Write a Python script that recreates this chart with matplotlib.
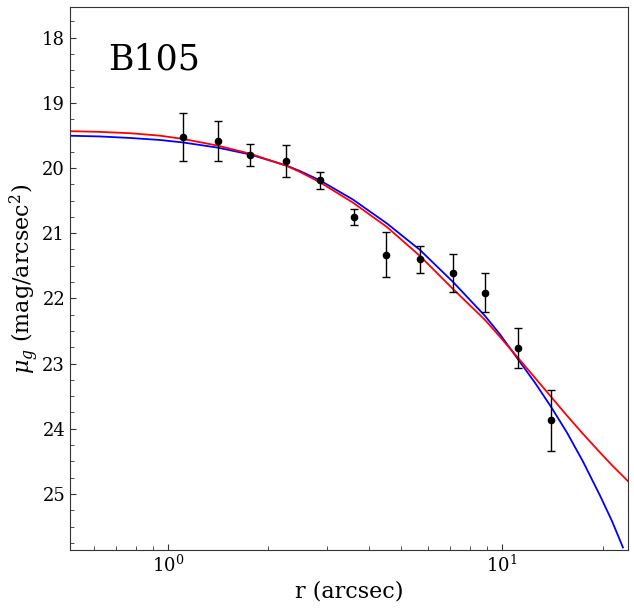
import matplotlib
matplotlib.use("Agg")
import matplotlib.pyplot as plt
from matplotlib.ticker import AutoMinorLocator

plt.rcParams['font.family'] = 'DejaVu Serif'
plt.rcParams['mathtext.fontset'] = 'dejavuserif'

# observed profile
r_obs = [1.109, 1.411, 1.760, 2.256, 2.852, 3.60, 4.49, 5.68, 7.13, 8.90, 11.16, 14.02]
mu_obs = [19.53, 19.59, 19.80, 19.89, 20.19, 20.75, 21.33, 21.40, 21.61, 21.91, 22.76, 23.87]
mu_err = [0.37, 0.31, 0.17, 0.245, 0.13, 0.12, 0.345, 0.21, 0.29, 0.30, 0.31, 0.47]

# model curves
r_red = [0.5087, 0.6256, 0.7696, 0.9464, 1.109, 1.411, 1.760, 2.256, 2.484, 2.852,
         3.580, 4.526, 5.682, 7.133, 8.894, 9.863, 11.167, 12.557, 14.02, 15.66,
         17.48, 19.66, 21.35, 23.84]
mu_red = [19.435, 19.446, 19.466, 19.504, 19.554, 19.657, 19.780, 19.963, 20.060, 20.219,
          20.531, 20.905, 21.349, 21.855, 22.329, 22.590, 22.911, 23.218, 23.508, 23.799,
          24.078, 24.364, 24.559, 24.804]

r_blue = [0.5087, 0.6256, 0.7696, 0.9464, 1.109, 1.411, 1.760, 2.256, 2.484, 2.852,
          3.580, 4.526, 5.682, 7.133, 8.894, 9.863, 11.167, 12.557, 14.02, 15.66,
          17.48, 19.66, 21.35, 23.03]
mu_blue = [19.505, 19.516, 19.539, 19.570, 19.608, 19.688, 19.792, 19.960, 20.046, 20.190,
           20.484, 20.851, 21.257, 21.747, 22.268, 22.551, 22.934, 23.294, 23.662, 24.060,
           24.502, 25.025, 25.415, 25.821]

fig = plt.figure(figsize=(6.34, 6.08), dpi=100)
ax = fig.add_axes([0.1104, 0.0954, 0.8801, 0.8931])

ax.plot(r_blue, mu_blue, color='blue', lw=1.3)
ax.plot(r_red, mu_red, color='red', lw=1.3)
ax.errorbar(r_obs, mu_obs, yerr=mu_err, fmt='o', color='black', ms=4.5,
            elinewidth=1, capsize=3, capthick=1, zorder=5)

ax.set_xscale('log')
ax.set_xlim(0.509, 23.84)
ax.set_ylim(25.86, 17.53)
ax.yaxis.set_minor_locator(AutoMinorLocator(4))

ax.tick_params(which='both', direction='in', top=False, right=False, labelsize=13,
               color='#333333')
ax.tick_params(which='major', length=4.5)
ax.tick_params(which='minor', length=3)
for s in ax.spines.values():
    s.set_color('#333333')

ax.set_xlabel('r (arcsec)', fontsize=16, labelpad=3)
ax.set_ylabel(r'$\mu_g$ (mag/arcsec$^2$)', fontsize=16, labelpad=0.5)
ax.text(0.068, 0.884, 'B105', transform=ax.transAxes, fontsize=25, va='baseline')

fig.savefig('out.png', dpi=100)
